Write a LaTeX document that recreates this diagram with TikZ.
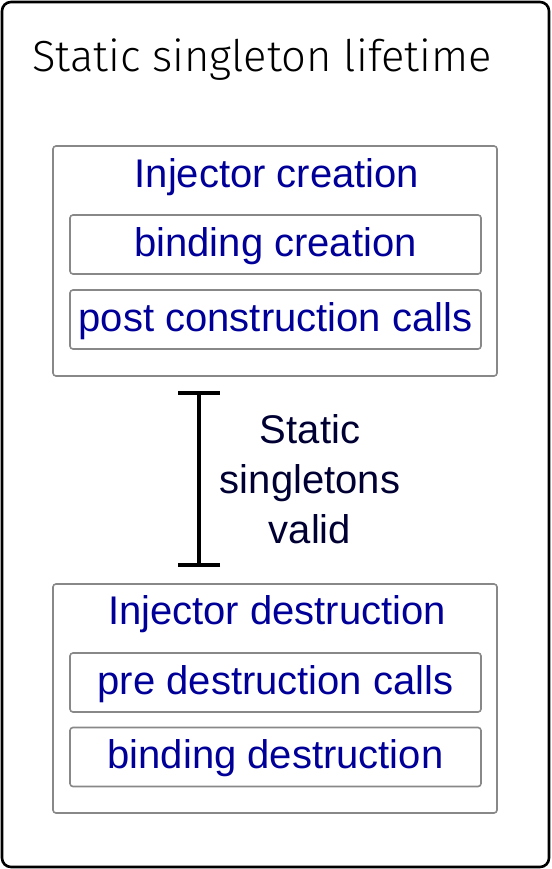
\documentclass[tikz,border=0pt]{standalone}
\usepackage{fontspec}
\setmainfont{Liberation Sans}
\newfontfamily\headfont{Fira Sans}[UprightFont=* Light]
\usetikzlibrary{arrows.meta}
\definecolor{stepblue}{HTML}{000099}
\definecolor{notenavy}{HTML}{000033}
\definecolor{framegray}{HTML}{888888}
\tikzset{
  phase/.style={draw=framegray, line width=1.6pt, rounded corners=3pt, inner sep=0pt},
  stepbox/.style={draw=framegray, line width=1.6pt, rounded corners=3pt, inner sep=0pt,
    minimum width=411pt, minimum height=59pt},
  steptext/.style={text=stepblue, font=\fontsize{40}{48}\selectfont, anchor=base, inner sep=0pt},
  notetext/.style={text=notenavy, font=\fontsize{40}{48}\selectfont, anchor=base, inner sep=0pt},
}
\begin{document}
\begin{tikzpicture}[x=1pt, y=-1pt]
\useasboundingbox (0,0) rectangle (551,869);
% outer frame
\draw[line width=2.6pt, rounded corners=9pt] (2,2) rectangle (549,867);
\node[anchor=base, inner sep=0pt, font=\headfont\fontsize{43.5}{52}\selectfont] (title) at (262,72) {Static singleton lifetime};

% injector creation
\node[phase, minimum width=444pt, minimum height=230pt] (create) at (275,261) {};
\node[steptext] (createlbl) at (277,187) {Injector creation};
\node[stepbox] (bindc) at (275.5,244.5) {};
\node[steptext] at (275.5,256) {binding creation};
\node[stepbox] (postc) at (275.5,319.5) {};
\node[steptext] at (275.5,331) {post construction calls};

% validity span
\coordinate (spantop) at (199,391);
\coordinate (spanbot) at (199,567);
\draw[line width=4pt, {Bar[width=42pt,line width=4pt]}-{Bar[width=42pt,line width=4pt]}] (spantop) -- (spanbot);
\node[notetext] (n1) at (310,443) {Static};
\node[notetext] (n2) at (310,493) {singletons};
\node[notetext] (n3) at (310,543) {valid};

% injector destruction
\node[phase, minimum width=444pt, minimum height=229pt] (destroy) at (275,698.5) {};
\node[steptext] (destroylbl) at (277,624) {Injector destruction};
\node[stepbox] (pred) at (275.5,682.5) {};
\node[steptext] at (275.5,694) {pre destruction calls};
\node[stepbox] (bindd) at (275.5,757) {};
\node[steptext] at (275.5,768.5) {binding destruction};
\end{tikzpicture}
\end{document}
